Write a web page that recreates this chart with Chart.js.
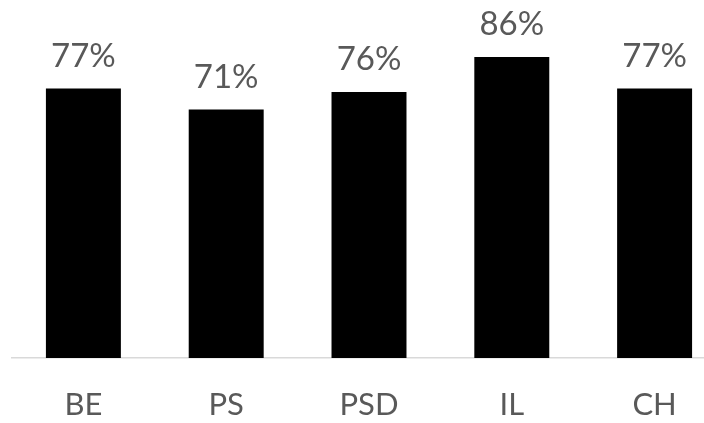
<!DOCTYPE html>
<html>
<head>
<meta charset="utf-8">
<script src="https://cdn.jsdelivr.net/npm/chart.js@4"></script>
<style>
  html, body { margin: 0; padding: 0; background: #fff; overflow: hidden; width: 704px; height: 423px; }
  canvas { display: block; }
</style>
</head>
<body>
<canvas id="myChart" width="726" height="423"></canvas>
<script>
const categories = ['BE', 'PS', 'PSD', 'IL', 'CH'];
const values = [77, 71, 76, 86, 77];

const labelFont = 'Lato, "Open Sans", sans-serif';

// draws the % labels above each bar
const valueLabels = {
  id: 'valueLabels',
  afterDatasetsDraw(chart) {
    const c = chart.ctx;
    const meta = chart.getDatasetMeta(0);
    c.save();
    c.fillStyle = '#595959';
    c.font = '33px ' + labelFont;
    c.textAlign = 'center';
    c.textBaseline = 'alphabetic';
    meta.data.forEach((bar, i) => {
      c.fillText(values[i] + '%', bar.x, bar.y - 22);
    });
    c.restore();
  }
};

const ctx = document.getElementById('myChart');

new Chart(ctx, {
  type: 'bar',
  data: {
    labels: categories,
    datasets: [{
      data: values,
      backgroundColor: '#000000',
      borderWidth: 0,
      barPercentage: 0.525,
      categoryPercentage: 1
    }]
  },
  options: {
    responsive: false,
    animation: false,
    layout: { padding: { left: 12, right: 0, top: 8, bottom: 0 } },
    plugins: {
      legend: { display: false },
      tooltip: { enabled: false }
    },
    scales: {
      y: {
        display: false,
        min: 0,
        max: 100
      },
      x: {
        grid: { display: false, drawTicks: false },
        border: { display: true, color: '#d9d9d9', width: 1.5 },
        ticks: {
          color: '#595959',
          font: { family: labelFont, size: 31 },
          padding: 28,
          maxRotation: 0
        },
        afterFit(scale) { scale.height = 65; }
      }
    }
  },
  plugins: [valueLabels]
});
</script>
</body>
</html>
